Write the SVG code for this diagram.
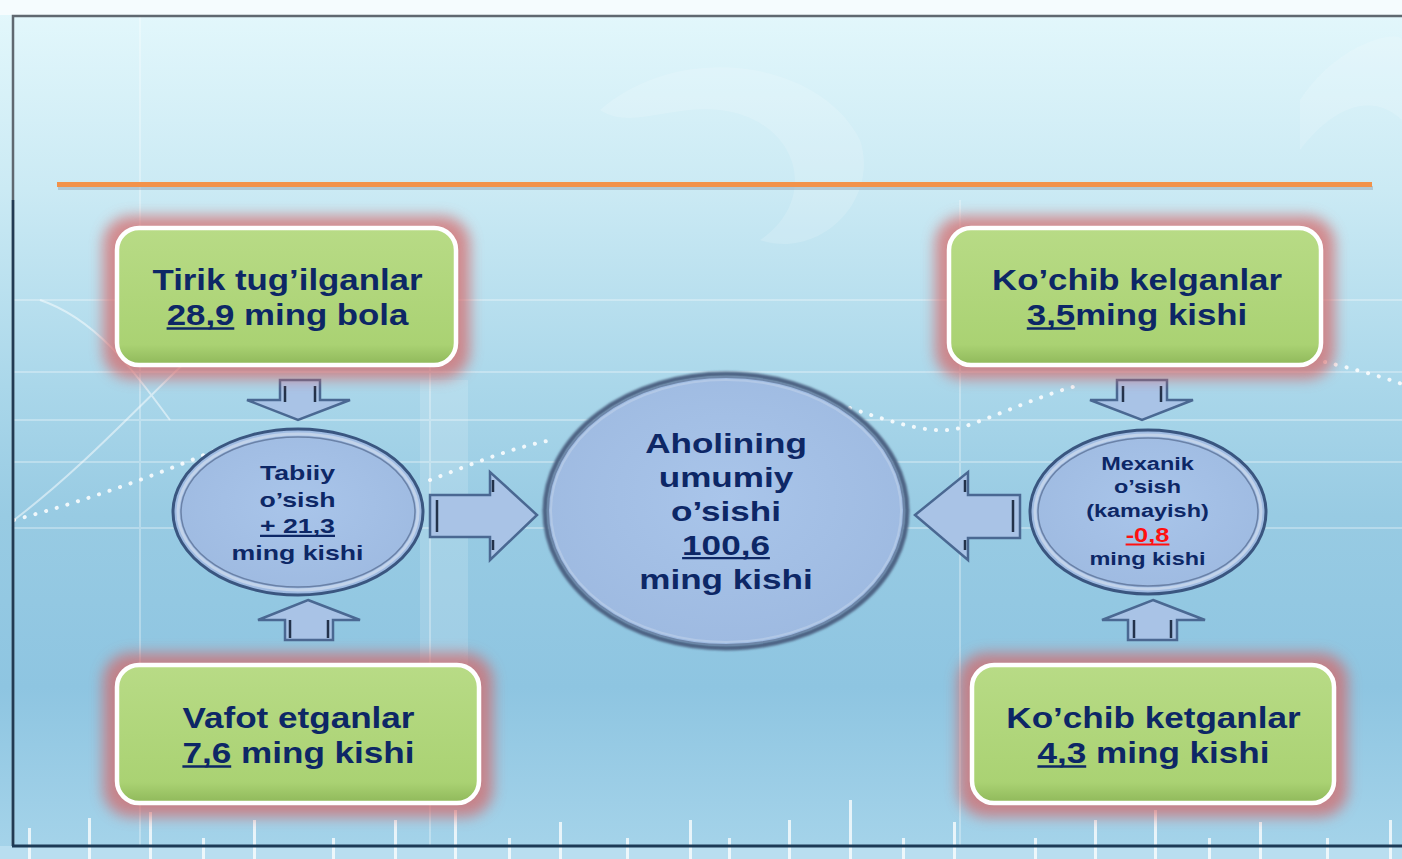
<svg xmlns="http://www.w3.org/2000/svg" width="1402" height="859" viewBox="0 0 1402 859">
<defs>
<linearGradient id="bg" x1="0" y1="0" x2="0" y2="1">
<stop offset="0" stop-color="#e4f8fc"/>
<stop offset="0.22" stop-color="#cbeaf4"/>
<stop offset="0.45" stop-color="#aad7ea"/>
<stop offset="0.6" stop-color="#98cbe3"/>
<stop offset="0.8" stop-color="#8ec5e1"/>
<stop offset="1" stop-color="#a6d4ea"/>
</linearGradient>
<linearGradient id="green" x1="0" y1="0" x2="0" y2="1">
<stop offset="0" stop-color="#b8db86"/>
<stop offset="0.85" stop-color="#aad273"/>
<stop offset="1" stop-color="#8fb85a"/>
</linearGradient>
<radialGradient id="ell" cx="0.5" cy="0.45" r="0.6">
<stop offset="0" stop-color="#a9c5ea"/>
<stop offset="1" stop-color="#9db9e0"/>
</radialGradient>
<filter id="glow" x="-20%" y="-30%" width="140%" height="160%">
<feGaussianBlur stdDeviation="7"/>
</filter>
<filter id="soft" x="-10%" y="-10%" width="120%" height="120%">
<feGaussianBlur stdDeviation="1.2"/>
</filter>
<style>
.box{fill:url(#green);stroke:#ffffff;stroke-width:4.5}
.halo{fill:#d86464;opacity:0.7}
.t{font-family:"Liberation Sans",Arial,sans-serif;font-weight:bold;fill:#0d2766;text-anchor:middle}
.red{fill:#ff1010}
.ul{stroke:#0d2766;stroke-width:2.3}
.ulr{stroke:#ff1010;stroke-width:2}
.eo{fill:url(#ell);stroke:#3a5680;stroke-width:3}
.ei{fill:none;stroke:#5d7398;stroke-width:1.5;opacity:0.8}
.ring{fill:none;stroke:#c2d3ea;stroke-width:3}
.arr{fill:#a9c3e6;stroke:#4a6892;stroke-width:2.5;stroke-linejoin:miter}
.dl{stroke:#23324a;stroke-width:2.5;fill:none}
.bar{fill:#ffffff;opacity:0.75}
</style>
</defs>

<!-- background -->
<rect x="0" y="0" width="1402" height="859" fill="url(#bg)"/>
<rect x="0" y="0" width="1402" height="15" fill="#f5fcfe"/>
<rect x="0" y="846" width="1402" height="13" fill="#b9def0"/>
<g opacity="0.3" stroke="#ffffff" stroke-width="2" fill="none">
<line x1="14" y1="300" x2="1402" y2="300"/>
<line x1="14" y1="372" x2="1402" y2="372"/>
<line x1="14" y1="420" x2="1402" y2="420"/>
<line x1="14" y1="462" x2="1402" y2="462"/>
<line x1="14" y1="528" x2="1402" y2="528"/>
<line x1="140" y1="16" x2="140" y2="846"/>
<line x1="430" y1="280" x2="430" y2="846"/>
<line x1="960" y1="200" x2="960" y2="846"/>
</g>
<g opacity="0.15" fill="#ffffff">
<rect x="420" y="380" width="48" height="300"/>
<path d="M600,110 C680,40 820,60 860,140 C880,200 820,260 760,240 C820,200 800,120 720,110 C670,105 630,130 600,110Z"/>
<path d="M1300,100 C1340,40 1400,30 1402,40 L1402,120 C1370,90 1330,110 1300,150Z"/>
</g>
<g stroke="#ffffff" fill="none" opacity="0.5" stroke-width="2">
<path d="M14,520 C120,440 200,330 320,250"/>
<path d="M40,300 C100,320 140,380 170,420"/>
</g>
<g stroke="#ffffff" fill="none" stroke-width="4" stroke-linecap="round" stroke-dasharray="0.1 11" opacity="0.85">
<path d="M14,520 C90,500 170,470 240,440"/>
<path d="M430,480 C470,465 510,448 552,440"/>
<path d="M850,408 C900,425 935,435 960,428 C1000,415 1040,395 1080,385"/>
<path d="M1325,362 C1350,368 1380,376 1402,384"/>
</g>
<g>
<rect class="bar" x="28" y="828" width="3" height="31"/>
<rect class="bar" x="88" y="818" width="3" height="41"/>
<rect class="bar" x="149" y="812" width="3" height="47"/>
<rect class="bar" x="202" y="838" width="3" height="21"/>
<rect class="bar" x="253" y="820" width="3" height="39"/>
<rect class="bar" x="332" y="838" width="3" height="21"/>
<rect class="bar" x="394" y="820" width="3" height="39"/>
<rect class="bar" x="454" y="810" width="3" height="49"/>
<rect class="bar" x="508" y="838" width="3" height="21"/>
<rect class="bar" x="559" y="822" width="3" height="37"/>
<rect class="bar" x="626" y="838" width="3" height="21"/>
<rect class="bar" x="689" y="820" width="3" height="39"/>
<rect class="bar" x="728" y="838" width="3" height="21"/>
<rect class="bar" x="788" y="820" width="3" height="39"/>
<rect class="bar" x="849" y="800" width="3" height="59"/>
<rect class="bar" x="902" y="838" width="3" height="21"/>
<rect class="bar" x="953" y="822" width="3" height="37"/>
<rect class="bar" x="1034" y="838" width="3" height="21"/>
<rect class="bar" x="1094" y="820" width="3" height="39"/>
<rect class="bar" x="1154" y="810" width="3" height="49"/>
<rect class="bar" x="1208" y="838" width="3" height="21"/>
<rect class="bar" x="1259" y="822" width="3" height="37"/>
<rect class="bar" x="1326" y="838" width="3" height="21"/>
<rect class="bar" x="1389" y="820" width="3" height="39"/>
</g>

<!-- frame -->
<path d="M13,846 L13,16 L1402,16" fill="none" stroke="#5f6870" stroke-width="2.5"/>
<path d="M13,200 L13,846" fill="none" stroke="#223a52" stroke-width="2.5"/>
<line x1="12" y1="846" x2="1402" y2="846" stroke="#1c3a56" stroke-width="3"/>

<!-- title rule -->
<rect x="58" y="186" width="1315" height="4" fill="#7a8a9a" opacity="0.35"/>
<rect x="57" y="182" width="1315" height="5" fill="#f2924a"/>

<!-- connectors -->
<g id="connectors">
<g id="arrow-birth">
<polygon class="arr" points="280,380 320,380 320,400 350,400 298,420 247,400 280,400"/>
<path class="dl" d="M285,386 V402 M315,386 V402"/>
</g>
<g id="arrow-death">
<polygon class="arr" points="308,600 360,620 333,620 333,640 285,640 285,620 258,620"/>
<path class="dl" d="M290,620 V638 M328,620 V638"/>
</g>
<g id="arrow-natural">
<polygon class="arr" points="430,495 490,495 490,472 537,515 490,560 490,537 430,537"/>
<path class="dl" d="M437,500 V532 M493,480 V492 M493,540 V550"/>
</g>
<g id="arrow-in">
<polygon class="arr" points="1117,380 1167,380 1167,400 1193,400 1142,420 1090,400 1117,400"/>
<path class="dl" d="M1123,386 V402 M1161,386 V402"/>
</g>
<g id="arrow-out">
<polygon class="arr" points="1153,600 1205,620 1177,620 1177,640 1128,640 1128,620 1102,620"/>
<path class="dl" d="M1134,620 V638 M1171,620 V638"/>
</g>
<g id="arrow-mech">
<polygon class="arr" points="915,515 968,472 968,495 1020,495 1020,538 968,538 968,560"/>
<path class="dl" d="M1013,500 V532 M965,480 V492 M965,540 V550"/>
</g>
</g>

<!-- nodes -->
<g id="node-born">
<rect class="halo" x="103" y="216" width="367" height="163" rx="28" filter="url(#glow)"/>
<rect class="box" x="117" y="228" width="339" height="137" rx="22"/>
<text class="t" font-size="29" transform="translate(287.5,0) scale(1.2,1)"><tspan x="0" y="290">Tirik tug’ilganlar</tspan><tspan x="0" y="325">28,9 ming bola</tspan></text>
<line class="ul" x1="166.6" y1="328.5" x2="234.3" y2="328.5"/>
</g>

<g id="node-arrived">
<rect class="halo" x="935" y="216" width="400" height="163" rx="28" filter="url(#glow)"/>
<rect class="box" x="949" y="228" width="372" height="137" rx="22"/>
<text class="t" font-size="29" transform="translate(1137,0) scale(1.2,1)"><tspan x="0" y="290">Ko’chib kelganlar</tspan><tspan x="0" y="325">3,5ming kishi</tspan></text>
<line class="ul" x1="1026.8" y1="328.5" x2="1075.2" y2="328.5"/>
</g>

<g id="node-died">
<rect class="halo" x="103" y="653" width="390" height="164" rx="28" filter="url(#glow)"/>
<rect class="box" x="117" y="665" width="362" height="138" rx="22"/>
<text class="t" font-size="29" transform="translate(298.5,0) scale(1.21,1)"><tspan x="0" y="728">Vafot etganlar</tspan><tspan x="0" y="763">7,6 ming kishi</tspan></text>
<line class="ul" x1="182.4" y1="766.5" x2="231.2" y2="766.5"/>
</g>

<g id="node-left">
<rect class="halo" x="958" y="653" width="390" height="164" rx="28" filter="url(#glow)"/>
<rect class="box" x="972" y="665" width="362" height="138" rx="22"/>
<text class="t" font-size="29" transform="translate(1153.5,0) scale(1.21,1)"><tspan x="0" y="728">Ko’chib ketganlar</tspan><tspan x="0" y="763">4,3 ming kishi</tspan></text>
<line class="ul" x1="1037.4" y1="766.5" x2="1086.2" y2="766.5"/>
</g>

<g id="node-natural">
<ellipse class="eo" cx="298" cy="512" rx="125" ry="83"/>
<ellipse class="ring" cx="298" cy="512" rx="120" ry="78"/>
<ellipse class="ei" cx="298" cy="512" rx="117" ry="75"/>
<text class="t" font-size="21" transform="translate(297.5,0) scale(1.27,1)"><tspan x="0" y="480">Tabiiy</tspan><tspan x="0" y="507">o’sish</tspan><tspan x="0" y="533">+ 21,3</tspan><tspan x="0" y="560">ming kishi</tspan></text>
<line class="ul" x1="260" y1="535.8" x2="335" y2="535.8" stroke-width="1.8"/>
</g>

<g id="node-total">
<ellipse cx="726" cy="511" rx="181" ry="137" fill="none" stroke="#4e6484" stroke-width="5" filter="url(#soft)"/>
<ellipse cx="726" cy="511" rx="178" ry="134" fill="url(#ell)" stroke="#6d86a8" stroke-width="2"/>
<ellipse cx="726" cy="511" rx="175" ry="131" fill="none" stroke="#b9cde8" stroke-width="2" opacity="0.7"/>
<text class="t" font-size="27" transform="translate(726,0) scale(1.3,1)"><tspan x="0" y="453">Aholining</tspan><tspan x="0" y="487">umumiy</tspan><tspan x="0" y="521">o’sishi</tspan><tspan x="0" y="555">100,6</tspan><tspan x="0" y="589">ming kishi</tspan></text>
<line class="ul" x1="682.1" y1="558.2" x2="769.9" y2="558.2"/>
</g>

<g id="node-mech">
<ellipse class="eo" cx="1148" cy="512" rx="118" ry="82"/>
<ellipse class="ring" cx="1148" cy="512" rx="113" ry="77"/>
<ellipse class="ei" cx="1148" cy="512" rx="110" ry="74"/>
<text class="t" font-size="18.5" transform="translate(1147.5,0) scale(1.27,1)"><tspan x="0" y="470">Mexanik</tspan><tspan x="0" y="493.5">o’sish</tspan><tspan x="0" y="517">(kamayish)</tspan><tspan x="0" y="542" class="red" font-size="20">-0,8</tspan><tspan x="0" y="565">ming kishi</tspan></text>
<line class="ulr" x1="1125.6" y1="544.6" x2="1169.4" y2="544.6"/>
</g>
</svg>
